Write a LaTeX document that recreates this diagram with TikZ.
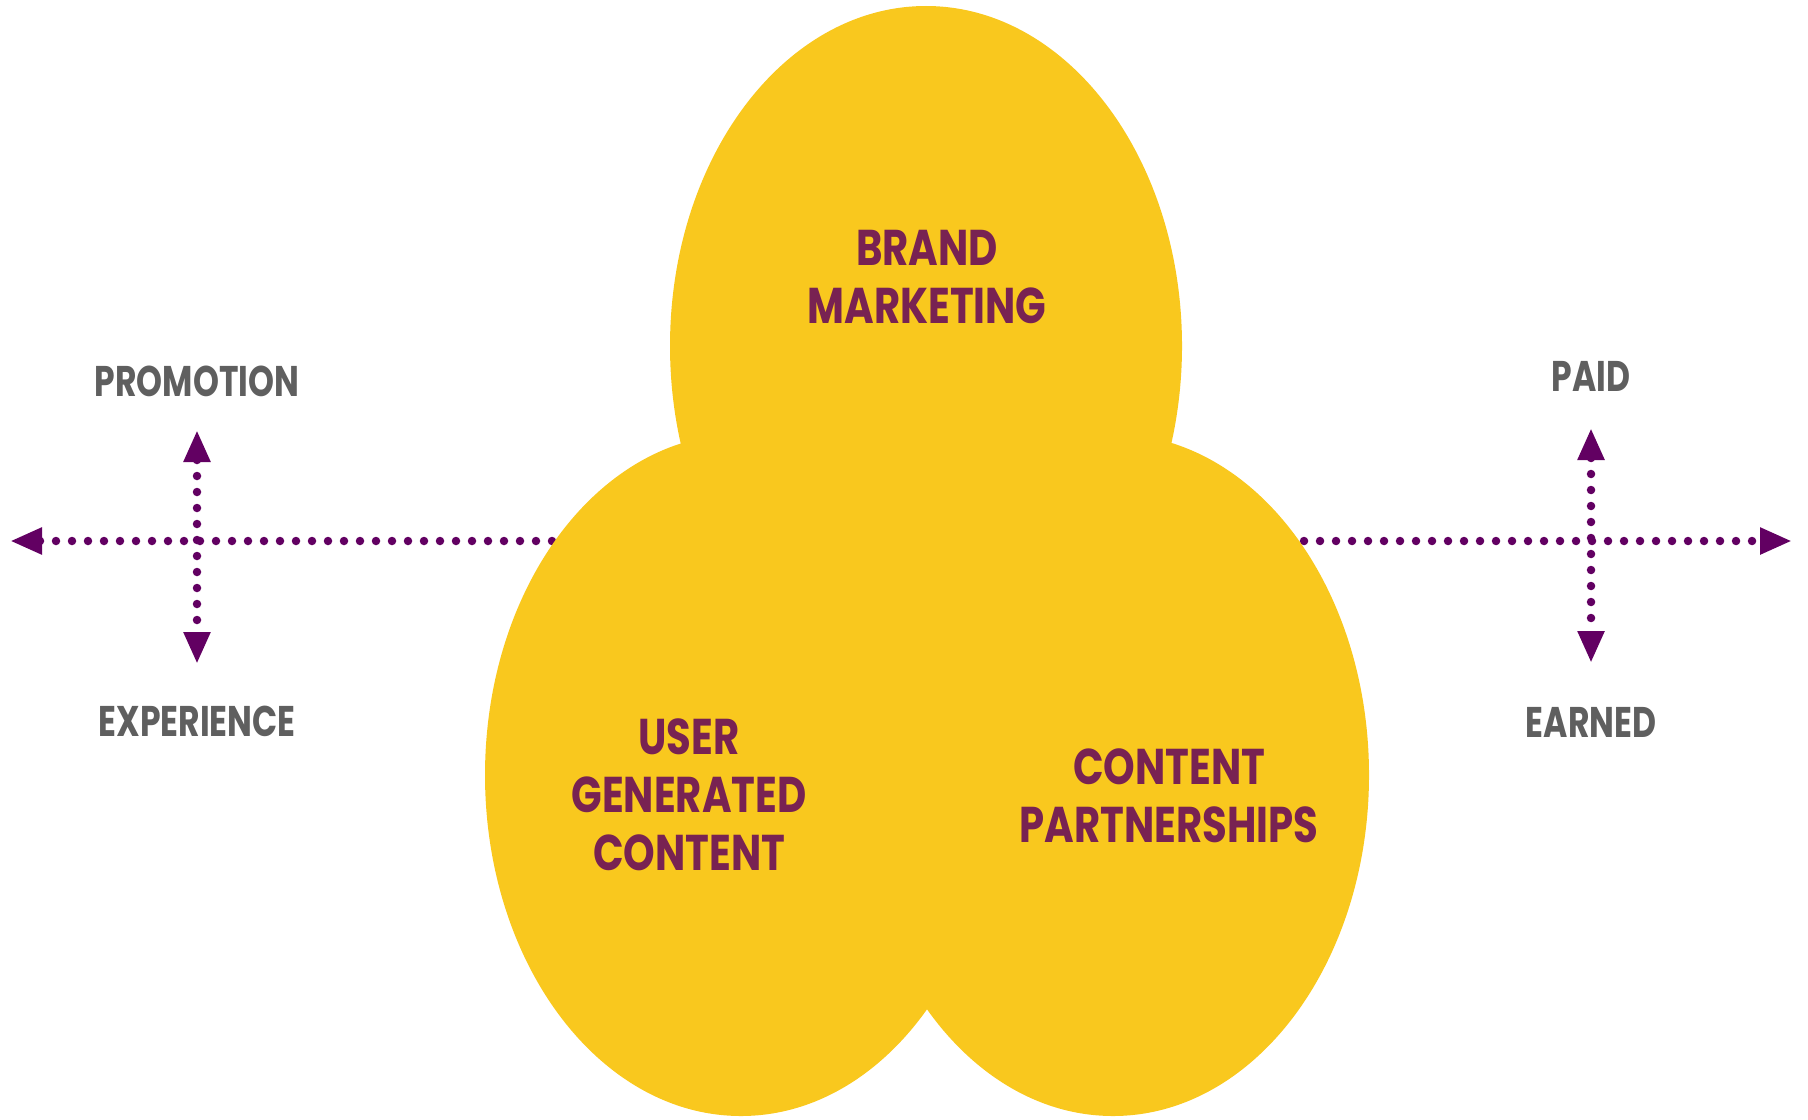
\documentclass[tikz,border=0pt]{standalone}
\usepackage{fontspec}
\setmainfont{Poppins}
\usetikzlibrary{arrows.meta}
\usetikzlibrary{positioning}

\definecolor{lobeyellow}{RGB}{249,200,30}
\definecolor{axispurple}{RGB}{98,0,98}
\definecolor{lobetext}{RGB}{120,34,82}
\definecolor{endtext}{RGB}{95,95,95}

\begin{document}
\begin{tikzpicture}[>={Triangle[width=2.5mm,length=3.2mm]},
    axis/.style={<->, axispurple, line width=0.85mm, line cap=round, dash pattern=on 0pt off 1.6mm},
    lobe label/.style={text=lobetext, font=\bfseries\fontsize{14.3}{16.5}\selectfont, align=center, xscale=0.8},
    end label/.style={text=endtext, font=\bfseries\fontsize{12.2}{14}\selectfont, inner sep=0pt, xscale=0.77}]
   \useasboundingbox (0,0) rectangle (18.08,11.19);
   % axis ends
   \coordinate (west) at (0.10,5.78);
   \coordinate (east) at (17.92,5.78);
   \coordinate (pTop) at (1.97,6.89);
   \coordinate (pBot) at (1.97,4.55);
   \coordinate (qTop) at (15.91,6.91);
   \coordinate (qBot) at (15.91,4.56);
   \draw[axis] (west) -- (east);
   \draw[axis] (pTop) -- (pBot);
   \draw[axis] (qTop) -- (qBot);
   % the three lobes
   \fill[lobeyellow] (9.26,7.73) ellipse [x radius=2.56, y radius=3.40];
   \fill[lobeyellow] (7.41,3.44) ellipse [x radius=2.56, y radius=3.41];
   \fill[lobeyellow] (11.13,3.44) ellipse [x radius=2.56, y radius=3.41];
   \node[lobe label] (brand) at (9.27,8.42) {BRAND\\MARKETING};
   \node[lobe label] (ugc) at (6.89,3.24) {USER\\GENERATED\\CONTENT};
   \node[lobe label] (partner) at (11.69,3.23) {CONTENT\\PARTNERSHIPS};
   % axis labels
   \node[end label, above=0.33cm of pTop] (promo) {PROMOTION};
   \node[end label, below=0.41cm of pBot] (exper) {EXPERIENCE};
   \node[end label, above=0.36cm of qTop] (paid) {PAID};
   \node[end label, below=0.44cm of qBot] (earned) {EARNED};
\end{tikzpicture}
\end{document}
